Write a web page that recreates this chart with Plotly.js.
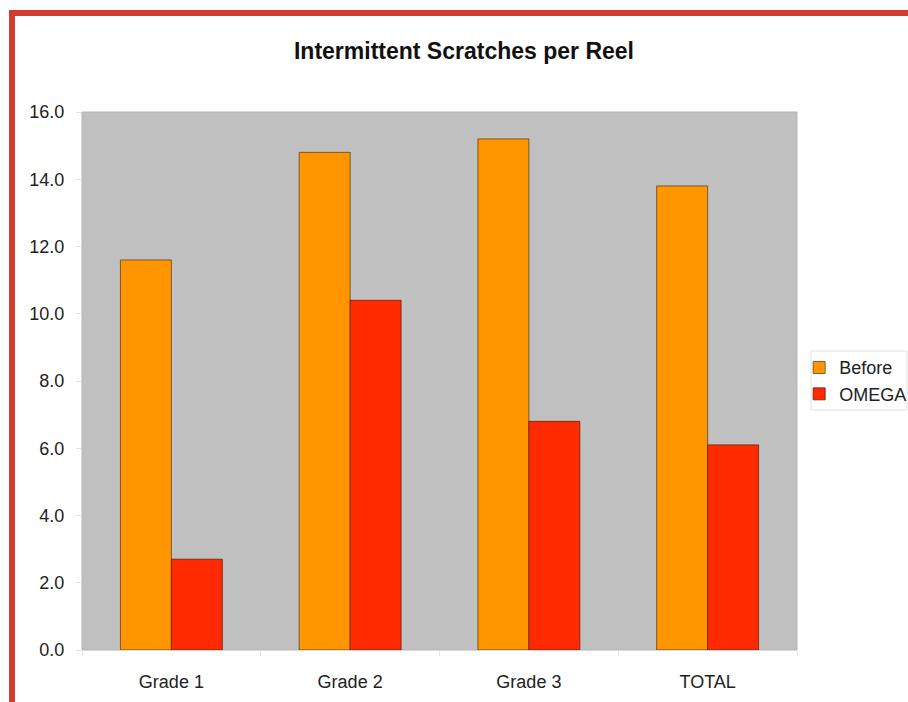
<!DOCTYPE html>
<html>
<head>
<meta charset="utf-8">
<script src="https://cdn.plot.ly/plotly-3.0.1.min.js"></script>
<style>
  html, body { margin: 0; padding: 0; background: #fff; }
  #wrap { position: relative; width: 908px; height: 702px; overflow: hidden; }
  #chart { position: absolute; left: 0; top: 0; width: 908px; height: 702px; }
  #frame { position: absolute; left: 9px; top: 10px; width: 920px; height: 720px;
           border-left: 6px solid #d03c30; border-top: 6px solid #d03c30; pointer-events: none; }
</style>
</head>
<body>
<div id="wrap">
  <div id="chart"></div>
  <div id="frame"></div>
</div>
<script>
const categories = ["Grade 1", "Grade 2", "Grade 3", "TOTAL"];
const beforeValues = [11.6, 14.8, 15.2, 13.8];
const omegaValues = [2.7, 10.4, 6.8, 6.1];
const yTickValues = [0, 2, 4, 6, 8, 10, 12, 14, 16];

const fontFamily = '"Liberation Sans", Arial, sans-serif';

const traces = [
  {
    type: 'bar', name: 'Before', x: categories, y: beforeValues, legendgroup: 'a',
    marker: { color: '#ff9600', line: { color: 'rgba(90,60,20,0.75)', width: 1 } },
    hoverinfo: 'x+y+name'
  },
  {
    type: 'bar', name: 'OMEGA', x: categories, y: omegaValues, legendgroup: 'b',
    marker: { color: '#ff2a00', line: { color: 'rgba(110,30,10,0.8)', width: 1 } },
    hoverinfo: 'x+y+name'
  }
];

const layout = {
  width: 908, height: 702,
  margin: { l: 82, r: 111, t: 112, b: 52, autoexpand: false },
  paper_bgcolor: '#ffffff',
  plot_bgcolor: '#c0c0c0',
  font: { family: fontFamily, size: 18, color: '#222' },
  title: {
    text: 'Intermittent Scratches per Reel',
    font: { family: fontFamily, size: 23, weight: 'bold', color: '#111' },
    x: 464 / 908, xanchor: 'center', xref: 'container',
    y: 1 - 51 / 702, yref: 'container', yanchor: 'middle'
  },
  barmode: 'group',
  bargap: 0.43,
  bargroupgap: 0,
  showlegend: true,
  legend: {
    x: 1.003, xanchor: 'left', y: 0.559, yanchor: 'top',
    bgcolor: 'rgba(0,0,0,0)', borderwidth: 0,
    font: { family: fontFamily, size: 18, color: '#222' },
    tracegroupgap: 6, traceorder: 'normal'
  },
  xaxis: {
    type: 'category',
    showgrid: false, zeroline: false,
    showline: false,
    ticks: 'outside', tickson: 'boundaries', ticklen: 5, tickcolor: '#e4e4e4',
    ticklabelstandoff: 19,
    tickfont: { family: fontFamily, size: 18, color: '#222' }
  },
  yaxis: {
    range: [0, 16], tickvals: yTickValues, tickformat: '.1f',
    showgrid: false, zeroline: false, showline: false,
    ticks: 'outside', ticklen: 5, tickcolor: '#e4e4e4',
    ticklabelstandoff: 8,
    tickfont: { family: fontFamily, size: 18, color: '#222' }
  },
  shapes: [
    { type: 'rect', xref: 'paper', yref: 'paper', x0: 0, x1: 1, y0: 0, y1: 1,
      line: { color: '#b4b4b4', width: 1 }, layer: 'below' },
    { type: 'rect', xref: 'paper', yref: 'paper',
      x0: (811 - 82) / 715, x1: (907 - 82) / 715,
      y0: (650 - 410) / 538, y1: (650 - 351) / 538,
      line: { color: '#e2e2e2', width: 1 }, fillcolor: 'rgba(0,0,0,0)', layer: 'above' }
  ]
};

Plotly.newPlot('chart', traces, layout, { displayModeBar: false, staticPlot: true });
</script>
</body>
</html>
